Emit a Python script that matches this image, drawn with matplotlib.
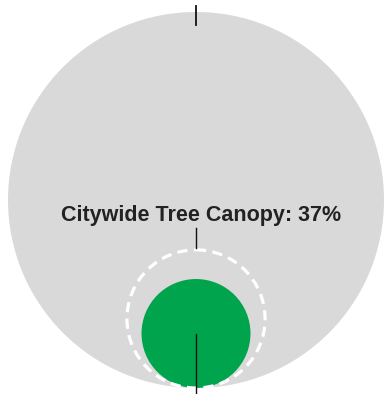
import numpy as np
import matplotlib.pyplot as plt
from matplotlib.patches import Circle

# Areas (share of city area) for each bubble
labels = ['City area', 'Target canopy', 'Current canopy']
areas = [100.0, 13.5, 8.4]
title_text = 'Citywide Tree Canopy: 37%'

W, H = 385, 394
fig = plt.figure(figsize=(W / 100, H / 100), dpi=100)
ax = fig.add_axes([0, 0, 1, 1])
ax.set_xlim(0, W)
ax.set_ylim(H, 0)
ax.set_aspect('equal')
ax.axis('off')

R = 188  # radius of biggest bubble in px
cx, bottom = 196, 388
radii = [R * np.sqrt(a / areas[0]) for a in areas]
centers = [bottom - r for r in radii]

# big grey circle
ax.add_patch(Circle((cx, centers[0]), radii[0], color='#d9d9d9', lw=0))
ax.plot([cx, cx], [6, 25], color='#111111', lw=1.3)

# current canopy
ax.add_patch(Circle((cx, centers[2]), radii[2], color='#00a44c', lw=0))
ax.plot([cx, cx], [centers[2], H], color='#111111', lw=1.0)

# dashed target circle
ax.add_patch(Circle((cx, centers[1]), radii[1], fill=False, ec='white',
                    lw=2.3, linestyle=(0, (3.2, 2.0))))
ax.plot([cx, cx], [228, centers[1] - radii[1] - 2], color='#111111', lw=1.0)

ax.text(201.5, 221, title_text, ha='center', va='baseline', fontsize=15.5,
        fontweight='bold', color='#222222', family='Liberation Sans')

fig.savefig('out.png', dpi=100)
